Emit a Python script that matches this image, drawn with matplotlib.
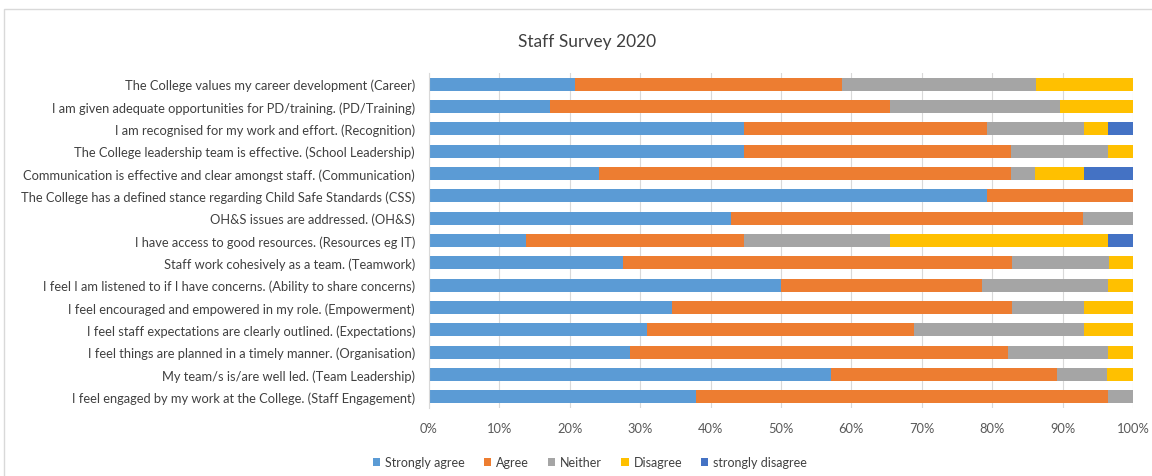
"""Staff Survey 2020 stacked horizontal bar chart."""

import matplotlib
matplotlib.use("Agg")
import matplotlib.pyplot as plt
from matplotlib.patches import Rectangle
from matplotlib.ticker import FuncFormatter

# questions, top to bottom
questions = [
    "The College values my career development (Career)",
    "I am given adequate opportunities for PD/training. (PD/Training)",
    "I am recognised for my work and effort. (Recognition)",
    "The College leadership team is effective. (School Leadership)",
    "Communication is effective and clear amongst staff. (Communication)",
    "The College has a defined stance regarding Child Safe Standards (CSS)",
    "OH&S issues are addressed. (OH&S)",
    "I have access to good resources. (Resources eg IT)",
    "Staff work cohesively as a team. (Teamwork)",
    "I feel I am listened to if I have concerns. (Ability to share concerns)",
    "I feel encouraged and empowered in my role. (Empowerment)",
    "I feel staff expectations are clearly outlined. (Expectations)",
    "I feel things are planned in a timely manner. (Organisation)",
    "My team/s is/are well led. (Team Leadership)",
    "I feel engaged by my work at the College. (Staff Engagement)",
]

# percent of responses per question
strongly_agree = [20.7, 17.2, 44.8, 44.8, 24.1, 79.3, 42.9, 13.8, 27.6, 50.0, 34.5, 31.0, 28.6, 57.1, 37.9]
agree = [37.9, 48.3, 34.5, 37.9, 58.6, 20.7, 50.0, 31.0, 55.2, 28.6, 48.3, 37.9, 53.6, 32.1, 58.6]
neither = [27.6, 24.1, 13.8, 13.8, 3.4, 0.0, 7.1, 20.7, 13.8, 17.9, 10.3, 24.1, 14.3, 7.1, 3.5]
disagree = [13.8, 10.4, 3.4, 3.5, 6.9, 0.0, 0.0, 31.0, 3.4, 3.5, 6.9, 7.0, 3.5, 3.7, 0.0]
strongly_disagree = [0.0, 0.0, 3.5, 0.0, 7.0, 0.0, 0.0, 3.5, 0.0, 0.0, 0.0, 0.0, 0.0, 0.0, 0.0]

series = [
    ("Strongly agree", strongly_agree, "#5B9BD5"),
    ("Agree", agree, "#ED7D31"),
    ("Neither", neither, "#A5A5A5"),
    ("Disagree", disagree, "#FFC000"),
    ("strongly disagree", strongly_disagree, "#4472C4"),
]

plt.rcParams["font.family"] = ["Lato", "DejaVu Sans"]

fig = plt.figure(figsize=(11.52, 4.77), dpi=100)
ax = fig.add_axes([429 / 1152, 1 - 409 / 477, 704 / 1152, 335 / 477])

# chart frame
fig.patches.append(Rectangle((4 / 1152, -0.05), 1.1, 1 - 10 / 477 + 0.05,
                             transform=fig.transFigure, fill=False,
                             edgecolor="#D9D9D9", linewidth=1))

y = list(range(len(questions)))
left = [0.0] * len(questions)
for name, vals, color in series:
    ax.barh(y, vals, left=left, height=0.58, color=color, label=name, zorder=2)
    left = [a + b for a, b in zip(left, vals)]

ax.set_ylim(len(questions) - 0.5, -0.5)
ax.set_yticks(y)
ax.set_yticklabels(questions, fontsize=9.3, color="#404040")
ax.set_xlim(0, 100)
ax.set_xticks(range(0, 101, 10))
ax.xaxis.set_major_formatter(FuncFormatter(lambda v, _: f"{v:.0f}%"))
ax.tick_params(axis="x", labelsize=9.3, colors="#595959", length=0, pad=10)
ax.tick_params(axis="y", length=0, pad=10)
ax.grid(axis="x", color="#D9D9D9", linewidth=0.8, zorder=0)
for side in ["top", "right", "bottom"]:
    ax.spines[side].set_visible(False)
ax.spines["left"].set_color("#D9D9D9")

fig.text(587 / 1152, 1 - 42 / 477, "Staff Survey 2020", ha="center", va="center",
         fontsize=12.5, color="#404040")

fig.legend(loc="center", bbox_to_anchor=(590 / 1152, 1 - 463 / 477), ncol=5,
           frameon=False, fontsize=9.0, handlelength=0.6, handleheight=0.6,
           handletextpad=0.4, columnspacing=1.5, labelcolor="#404040")

fig.savefig("out.png", dpi=100)
